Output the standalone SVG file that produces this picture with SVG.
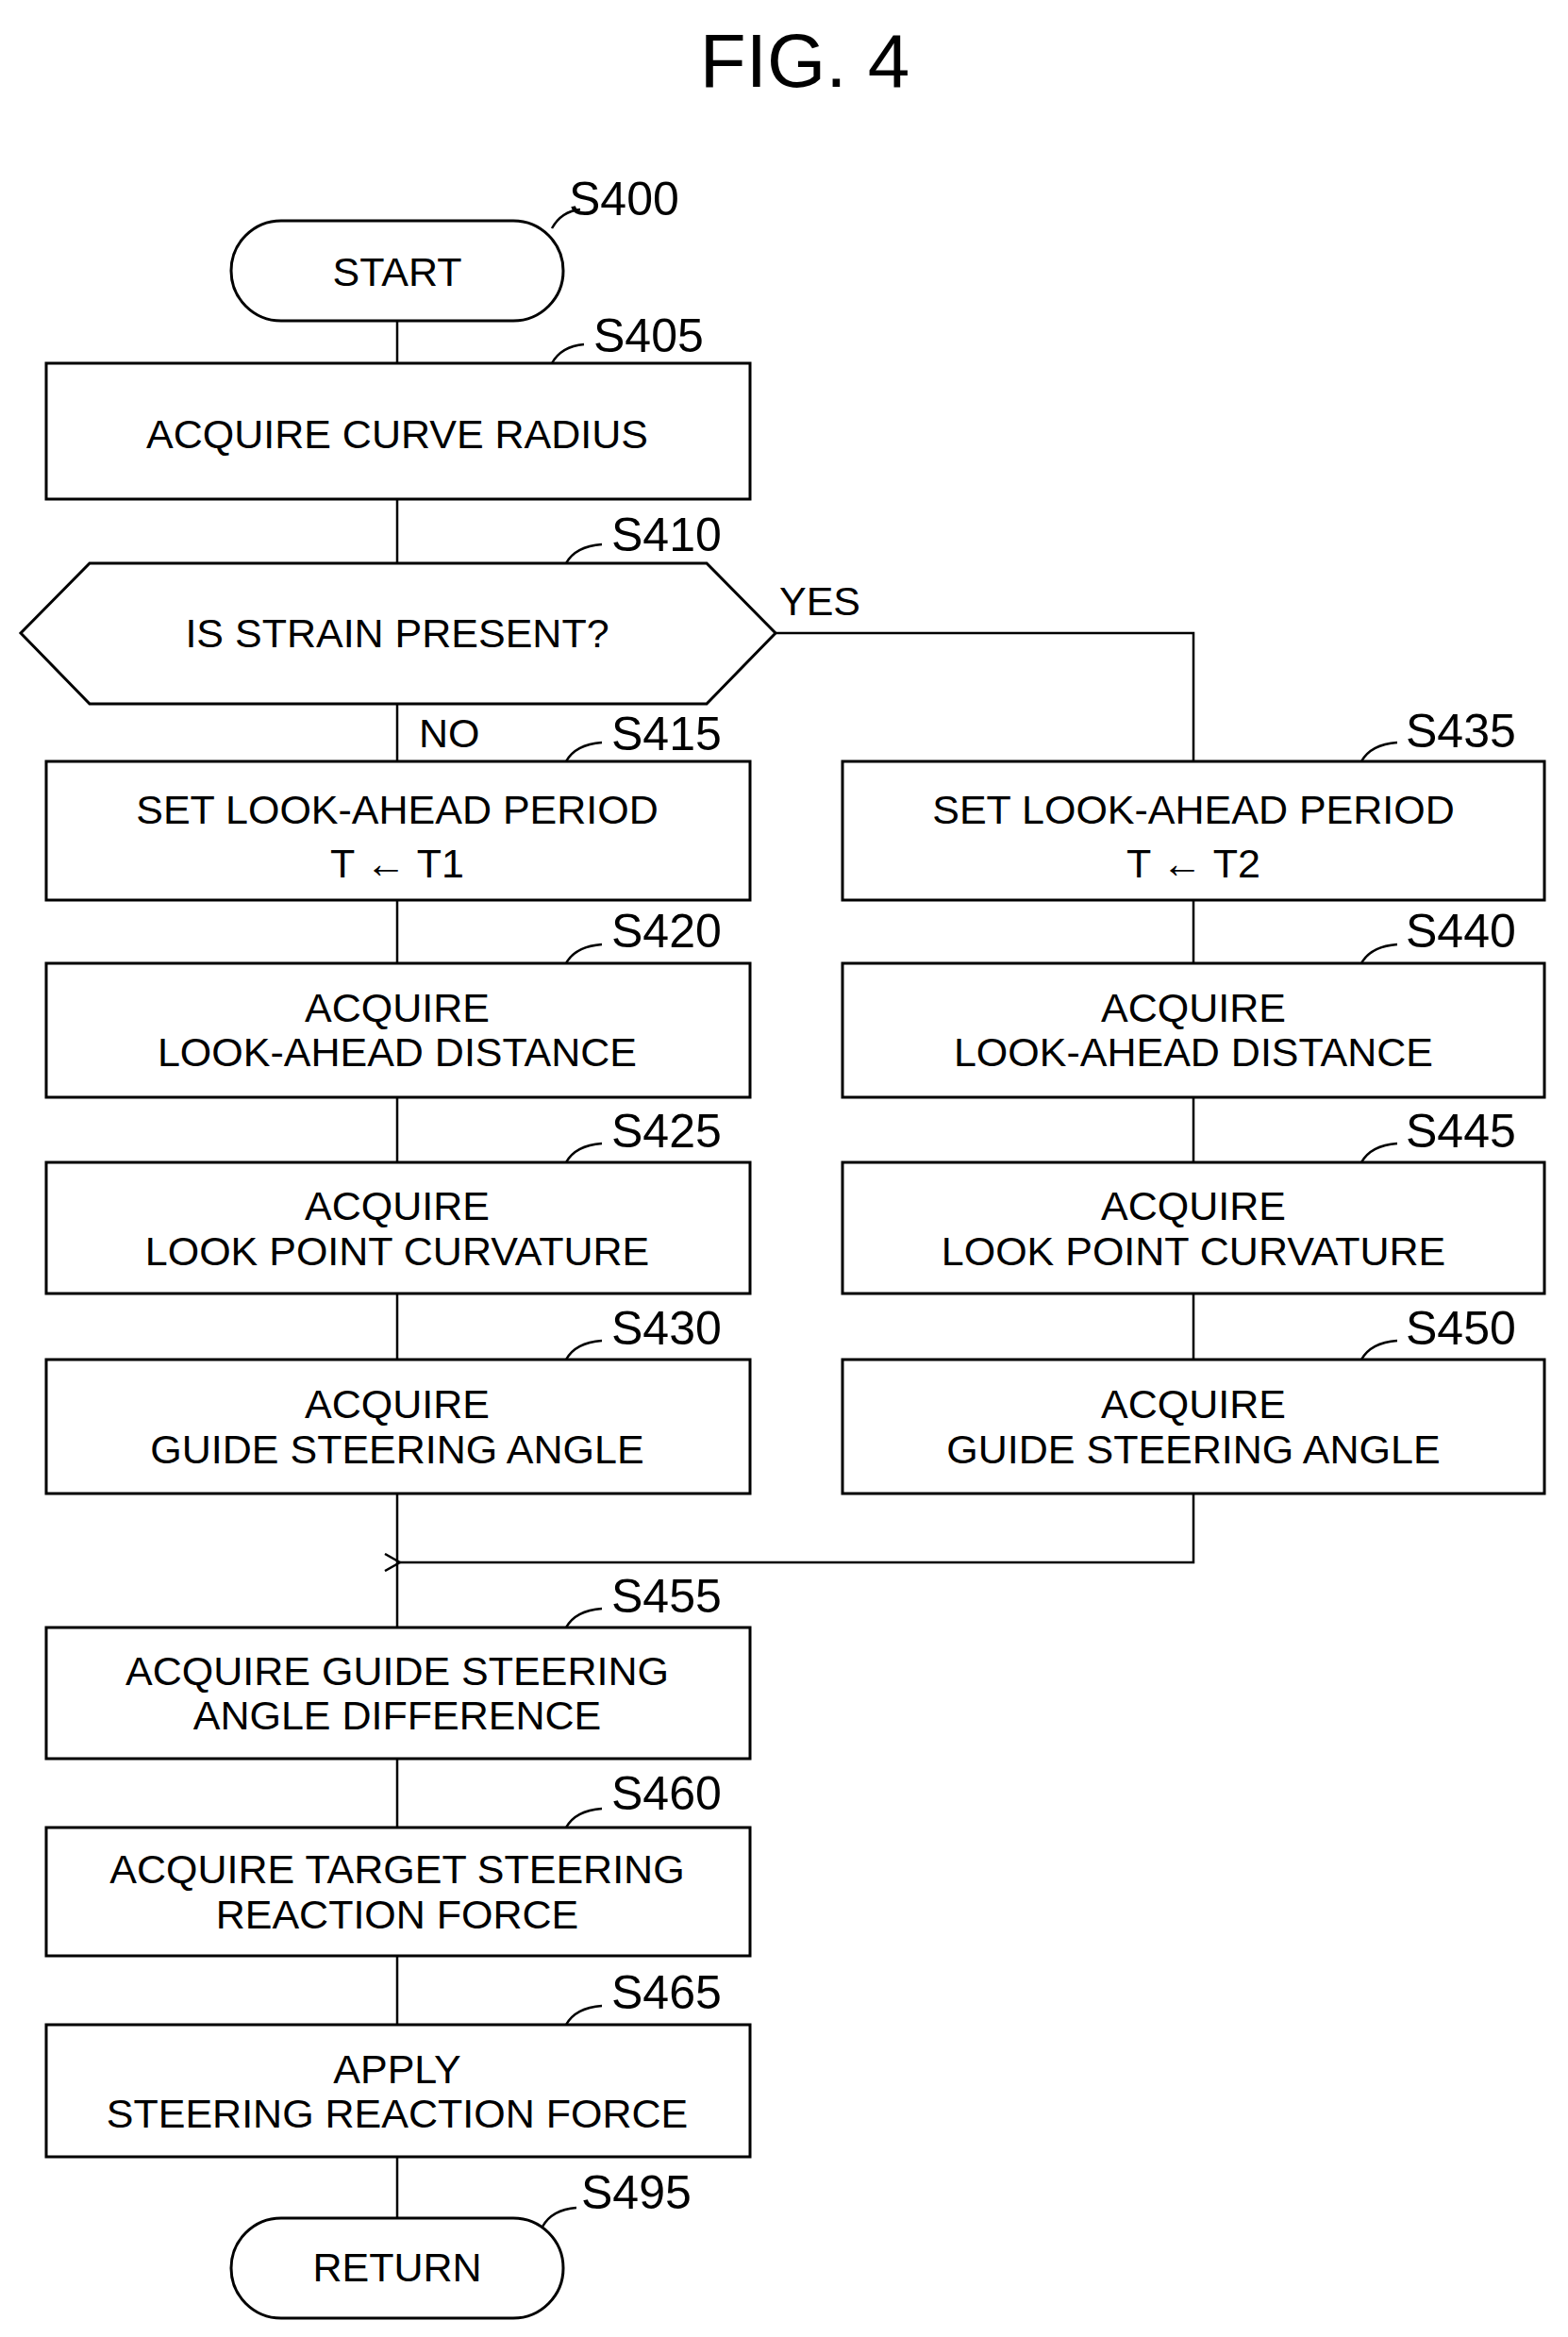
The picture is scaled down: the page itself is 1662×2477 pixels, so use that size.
<svg xmlns="http://www.w3.org/2000/svg" width="1662" height="2477" viewBox="0 0 1662 2477">
<style>
.s{fill:#fff;stroke:#000;stroke-width:3}
.c{fill:none;stroke:#000;stroke-width:2.5}
.t{font-family:"Liberation Sans",Arial,sans-serif;font-size:43px;text-anchor:middle;fill:#000}
.l{font-family:"Liberation Sans",Arial,sans-serif;font-size:50px;fill:#000}
.ld{fill:none;stroke:#000;stroke-width:2.5}
</style>
<defs><marker id="a" markerWidth="20" markerHeight="20" refX="2" refY="10" orient="auto" markerUnits="userSpaceOnUse"><path d="M18 1 L2 10 L18 19" fill="none" stroke="#000" stroke-width="2.5"/></marker></defs>
<text x="853" y="92" class="l" style="font-size:80px;text-anchor:middle">FIG. 4</text>
<g id="connectors">
<path class="c" d="M421 340V385M421 529V597M421 746V807M421 954V1021M421 1163V1232M421 1371V1441M421 1583V1725M421 1864V1937M421 2073V2146M421 2286V2351"/>
<path class="c" d="M822 671H1265V807M1265 954V1021M1265 1163V1232M1265 1371V1441M1265 1583V1656H424" marker-end="url(#a)"/>
<text x="826" y="652" class="t" style="text-anchor:start">YES</text>
<text x="444" y="792" class="t" style="text-anchor:start">NO</text>
</g>
<g id="S400"><rect x="245" y="234" width="352" height="106" rx="53" class="s"/><text x="421" y="303" class="t">START</text><path class="ld" d="M585 242q10-18 30-20"/><text x="603" y="228" class="l">S400</text></g>
<g id="S405"><rect x="49" y="385" width="746" height="144" class="s"/><text x="421" y="475" class="t">ACQUIRE CURVE RADIUS</text><path class="ld" d="M585 385q10-18 34-20"/><text x="629" y="373" class="l">S405</text></g>
<g id="S410"><path d="M95 597H749L822 671L749 746H95L22 671Z" class="s"/><text x="421" y="686" class="t">IS STRAIN PRESENT?</text><path class="ld" d="M600 597q10-18 38-20"/><text x="648" y="584" class="l">S410</text></g>
<g id="S415"><rect x="49" y="807" width="746" height="147" class="s"/><text x="421" y="873" class="t">SET LOOK-AHEAD PERIOD</text><text x="421" y="930" class="t">T ← T1</text><path class="ld" d="M600 807q10-18 38-20"/><text x="648" y="795" class="l">S415</text></g>
<g id="S420"><rect x="49" y="1021" width="746" height="142" class="s"/><text x="421" y="1083" class="t">ACQUIRE</text><text x="421" y="1130" class="t">LOOK-AHEAD DISTANCE</text><path class="ld" d="M600 1021q10-18 38-20"/><text x="648" y="1004" class="l">S420</text></g>
<g id="S425"><rect x="49" y="1232" width="746" height="139" class="s"/><text x="421" y="1293" class="t">ACQUIRE</text><text x="421" y="1341" class="t">LOOK POINT CURVATURE</text><path class="ld" d="M600 1232q10-18 38-20"/><text x="648" y="1216" class="l">S425</text></g>
<g id="S430"><rect x="49" y="1441" width="746" height="142" class="s"/><text x="421" y="1503" class="t">ACQUIRE</text><text x="421" y="1551" class="t">GUIDE STEERING ANGLE</text><path class="ld" d="M600 1441q10-18 38-20"/><text x="648" y="1425" class="l">S430</text></g>
<g id="S435"><rect x="893" y="807" width="744" height="147" class="s"/><text x="1265" y="873" class="t">SET LOOK-AHEAD PERIOD</text><text x="1265" y="930" class="t">T ← T2</text><path class="ld" d="M1443 807q10-18 38-20"/><text x="1490" y="792" class="l">S435</text></g>
<g id="S440"><rect x="893" y="1021" width="744" height="142" class="s"/><text x="1265" y="1083" class="t">ACQUIRE</text><text x="1265" y="1130" class="t">LOOK-AHEAD DISTANCE</text><path class="ld" d="M1443 1021q10-18 38-20"/><text x="1490" y="1004" class="l">S440</text></g>
<g id="S445"><rect x="893" y="1232" width="744" height="139" class="s"/><text x="1265" y="1293" class="t">ACQUIRE</text><text x="1265" y="1341" class="t">LOOK POINT CURVATURE</text><path class="ld" d="M1443 1232q10-18 38-20"/><text x="1490" y="1216" class="l">S445</text></g>
<g id="S450"><rect x="893" y="1441" width="744" height="142" class="s"/><text x="1265" y="1503" class="t">ACQUIRE</text><text x="1265" y="1551" class="t">GUIDE STEERING ANGLE</text><path class="ld" d="M1443 1441q10-18 38-20"/><text x="1490" y="1425" class="l">S450</text></g>
<g id="S455"><rect x="49" y="1725" width="746" height="139" class="s"/><text x="421" y="1786" class="t">ACQUIRE GUIDE STEERING</text><text x="421" y="1833" class="t">ANGLE DIFFERENCE</text><path class="ld" d="M600 1725q10-18 38-20"/><text x="648" y="1709" class="l">S455</text></g>
<g id="S460"><rect x="49" y="1937" width="746" height="136" class="s"/><text x="421" y="1996" class="t">ACQUIRE TARGET STEERING</text><text x="421" y="2044" class="t">REACTION FORCE</text><path class="ld" d="M600 1937q10-18 38-20"/><text x="648" y="1918" class="l">S460</text></g>
<g id="S465"><rect x="49" y="2146" width="746" height="140" class="s"/><text x="421" y="2208" class="t">APPLY</text><text x="421" y="2255" class="t">STEERING REACTION FORCE</text><path class="ld" d="M600 2146q10-18 38-20"/><text x="648" y="2129" class="l">S465</text></g>
<g id="S495"><rect x="245" y="2351" width="352" height="106" rx="53" class="s"/><text x="421" y="2418" class="t">RETURN</text><path class="ld" d="M575 2360q10-18 36-20"/><text x="616" y="2341" class="l">S495</text></g>
</svg>
